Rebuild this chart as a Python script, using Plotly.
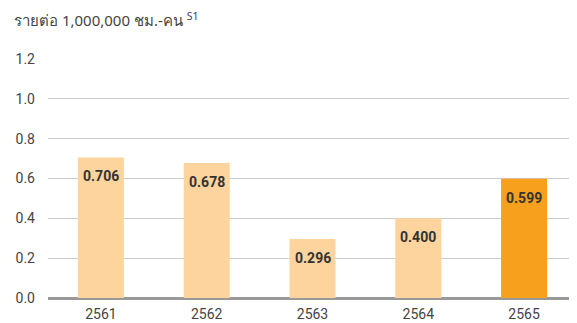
import plotly.graph_objects as go

years = ["2561", "2562", "2563", "2564", "2565"]
rates = [0.706, 0.678, 0.296, 0.400, 0.599]
labels = ["0.706", "0.678", "0.296", "0.400", "0.599"]
bar_colors = ["#FDD49E", "#FDD49E", "#FDD49E", "#FDD49E", "#F7A01E"]

fig = go.Figure()
fig.add_trace(go.Bar(
    x=years,
    y=rates,
    marker=dict(color=bar_colors, line=dict(width=0)),
    showlegend=False,
))

# value labels just inside the top of each bar
# (category index used for x, numeric-looking strings get read as indices)
for i, (val, lab) in enumerate(zip(rates, labels)):
    fig.add_annotation(
        x=i, y=val, text=f"<b>{lab}</b>",
        xanchor="center", yanchor="top", yshift=-9,
        showarrow=False,
        font=dict(family="Roboto", size=14, color="#333333"),
    )

fig.add_annotation(
    text="รายต่อ 1,000,000 ชม.-คน <sup>S1</sup>",
    xref="paper", yref="paper", x=-0.068, y=1.166,
    xanchor="left", yanchor="middle", showarrow=False,
    font=dict(family="Noto Sans", size=15, color="#444444"),
)

# page body adds an 8px offset, so the figure is sized/margined to compensate
fig.update_layout(
    width=569, height=315,
    margin=dict(l=40, r=0, t=51, b=25),
    paper_bgcolor="white",
    plot_bgcolor="white",
    bargap=0.565,
    font=dict(family="Roboto", size=13, color="#444444"),
)
fig.update_yaxes(
    range=[0, 1.2],
    tickvals=[0, 0.2, 0.4, 0.6, 0.8, 1.0, 1.2],
    tickformat=".1f",
    showgrid=True, gridcolor="#CCCCCC", gridwidth=1,
    zeroline=True, zerolinecolor="#999999", zerolinewidth=3,
    ticklabelstandoff=12,
    automargin=False,
    tickfont=dict(size=14, color="#444444"),
)
fig.update_xaxes(
    type="category",
    range=[-0.5, 4.5],
    showgrid=False,
    automargin=False,
    ticklabelstandoff=6,
    tickfont=dict(size=14, color="#444444"),
)

fig.write_html("out.html")
